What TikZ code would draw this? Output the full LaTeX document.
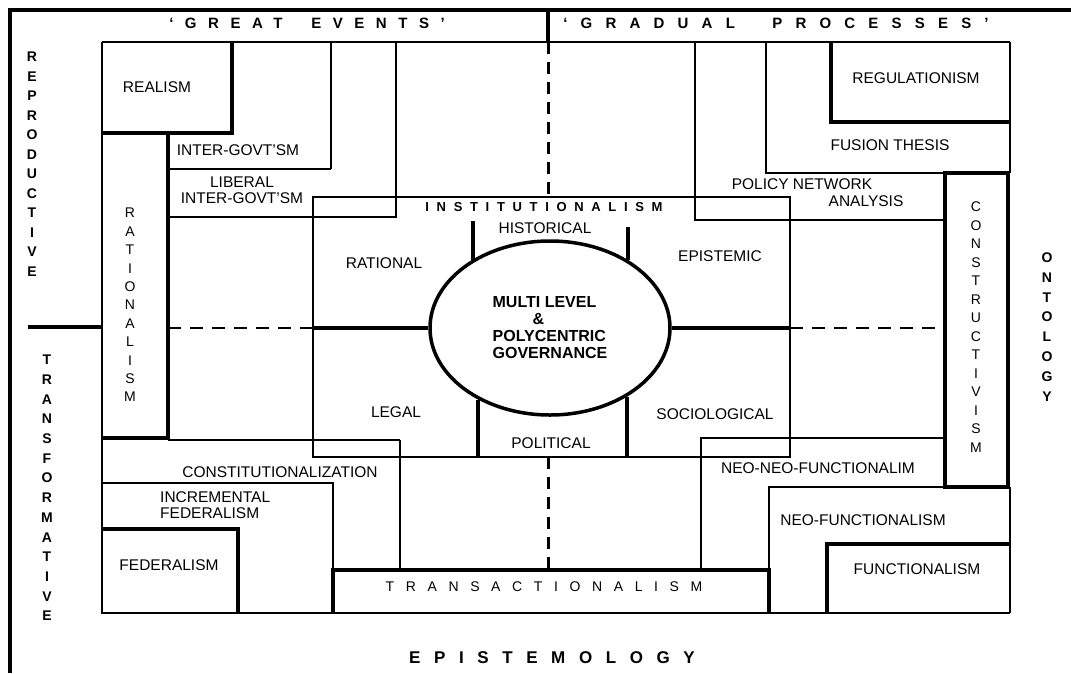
\documentclass[tikz,border=0pt]{standalone}
\usepackage{fontspec}
\setmainfont{Liberation Sans}
\usepackage{tikz}
\usetikzlibrary{shapes,positioning,calc}

\tikzset{
    thinln/.style={line width=1.1pt},
    medln/.style={line width=2.2pt},
    thickln/.style={line width=3.8pt},
    dashv/.style={line width=3pt, dash pattern=on 12pt off 8pt},
    dashh/.style={line width=1.3pt, dash pattern=on 13pt off 9pt},
    lbl/.style={inner sep=0pt, font=\fontsize{15.5}{16}\selectfont},
    spaced/.style 2 args={inner sep=0pt, font=\fontsize{#1}{#1}\selectfont\addfontfeature{LetterSpace=#2}},
    bspaced/.style 2 args={inner sep=0pt, font=\fontsize{#1}{#1}\selectfont\bfseries\addfontfeature{LetterSpace=#2}},
    vword/.style={inner sep=0pt, align=center, font=\fontsize{14}{#1}\selectfont},
    vwordb/.style={inner sep=0pt, align=center, font=\fontsize{14}{#1}\selectfont\bfseries},
}

\begin{document}
\begin{tikzpicture}[x=1pt, y=-1pt]
    \useasboundingbox (0,0) rectangle (1071,673);
    % frame
    \draw[line width=4pt] (1071,10) -- (10,10) -- (10,673);
    \draw[line width=4pt] (548,10) -- (548,42);
    \draw[thinln] (102,42) -- (1010,42);
    \draw[thinln] (102,42) -- (102,613) -- (1010,613);
    \draw[thickln] (28,327) -- (102,327);

    % top left
    \draw[thickln] (232,42) -- (232,133) -- (102,133);
    \draw[thickln] (168,133) -- (168,438) -- (102,438);
    \draw[medln] (331,42) -- (331,169);
    \draw[thinln] (168,169) -- (331,169);
    \draw[thinln] (396,42) -- (396,217) -- (168,217);

    % top right
    \draw[medln] (695,42) -- (695,220) -- (945,220);
    \draw[thinln] (766,42) -- (766,173) -- (945,173);
    \draw[thickln] (831,42) -- (831,122) -- (1010,122);
    \draw[medln] (1010,42) -- (1010,173);
    \draw[thickln] (945,173) rectangle (1008,487);

    % bottom left
    \draw[thinln] (168,440) -- (400,440);
    \draw[medln] (400,440) -- (400,570);
    \draw[thinln] (102,483) -- (333,483) -- (333,570);
    \draw[thickln] (102,529) -- (238,529) -- (238,613);
    \draw[thickln] (333,613) -- (333,570) -- (769,570) -- (769,613);

    % bottom right
    \draw[thinln] (701,570) -- (701,438) -- (945,438);
    \draw[thinln] (769,570) -- (769,487) -- (945,487);
    \draw[thickln] (827,613) -- (827,544) -- (1010,544);
    \draw[medln] (1010,487) -- (1010,613);

    % institutionalism
    \draw[thinln] (313,197) rectangle (790,457);
    \draw[dashv] (548,42) -- (548,197);
    \draw[dashv] (548,457) -- (548,570);
    \draw[dashh] (168,328) -- (313,328);
    \draw[dashh] (790,328) -- (945,328);

    \node[ellipse, draw, line width=3.5pt, fill=white, minimum width=240, minimum height=174,
          inner sep=0pt, align=left, font=\fontsize{16}{17}\selectfont\bfseries] (gov) at (550,328)
          {MULTI LEVEL\\\hspace*{40pt}\&\\POLYCENTRIC\\GOVERNANCE};
    \coordinate (ratL) at (313,328);
    \coordinate (epiR) at (790,328);
    \coordinate (hisL) at (473,221);
    \coordinate (hisR) at (628,227);
    \coordinate (polL) at (478,457);
    \coordinate (polR) at (627,457);
    \draw[thickln] (ratL) -- (gov.west);
    \draw[thickln] (gov.east) -- (epiR);
    \draw[thickln] (hisL) -- (hisL |- gov.139);
    \draw[thickln] (hisR) -- (hisR |- gov.41);
    \draw[thickln] (polL) -- (polL |- gov.225);
    \draw[thickln] (polR) -- (polR |- gov.318);

    % headings
    \node[bspaced={15}{77}] (gevents) at (307,23) {`GREAT\hspace{13pt} EVENTS'};
    \node[bspaced={15}{88}] (gproc) at (776,23) {`GRADUAL\hspace{20pt} PROCESSES'};
    \node[bspaced={13}{59}] (inst) at (544,207) {INSTITUTIONALISM};
    \node[spaced={14}{83}] (transact) at (544,587) {TRANSACTIONALISM};
    \node[bspaced={17}{80}] (epist) at (552,658) {EPISTEMOLOGY};

    % vertical words
    \node[vwordb=19.5] (reprod) at (32,164) {R\\E\\P\\R\\O\\D\\U\\C\\T\\I\\V\\E};
    \node[vwordb=19.7] (transf) at (47,488) {T\\R\\A\\N\\S\\F\\O\\R\\M\\A\\T\\I\\V\\E};
    \node[vword=18.4] (ratism) at (130,305) {R\\A\\T\\I\\O\\N\\A\\L\\I\\S\\M};
    \node[vword=18.5] (constr) at (976,327) {C\\O\\N\\S\\T\\R\\U\\C\\T\\I\\V\\I\\S\\M};
    \node[vwordb=19.9] (ontol) at (1047,327) {O\\N\\T\\O\\L\\O\\G\\Y};

    % Labels
    \node[lbl] (realism) at (157,87) {REALISM};
    \node[lbl] (intgov) at (238,150) {INTER-GOVT'SM};
    \node[lbl, align=center, font=\fontsize{15.5}{15.5}\selectfont] (libint) at (242,190) {LIBERAL\\INTER-GOVT'SM};
    \node[lbl] (regul) at (916,78) {REGULATIONISM};
    \node[lbl] (fusion) at (890,145) {FUSION THESIS};
    \node[lbl] (policy) at (802,184) {POLICY NETWORK};
    \node[lbl] (analysis) at (866,201) {ANALYSIS};
    \node[lbl] (rational) at (384,263) {RATIONAL};
    \node[lbl] (historical) at (545,228) {HISTORICAL};
    \node[lbl] (epistemic) at (720,256) {EPISTEMIC};
    \node[lbl] (legal) at (396,412) {LEGAL};
    \node[lbl] (sociol) at (715,414) {SOCIOLOGICAL};
    \node[lbl] (political) at (551,443) {POLITICAL};
    \node[lbl] (constit) at (280,472) {CONSTITUTIONALIZATION};
    \node[lbl, align=left, anchor=west] (incfed) at (160,505) {INCREMENTAL\\FEDERALISM};
    \node[lbl] (federal) at (169,565) {FEDERALISM};
    \node[lbl] (neoneo) at (818,468) {NEO-NEO-FUNCTIONALIM};
    \node[lbl] (neofunc) at (863,520) {NEO-FUNCTIONALISM};
    \node[lbl] (functional) at (917,569) {FUNCTIONALISM};
\end{tikzpicture}
\end{document}
